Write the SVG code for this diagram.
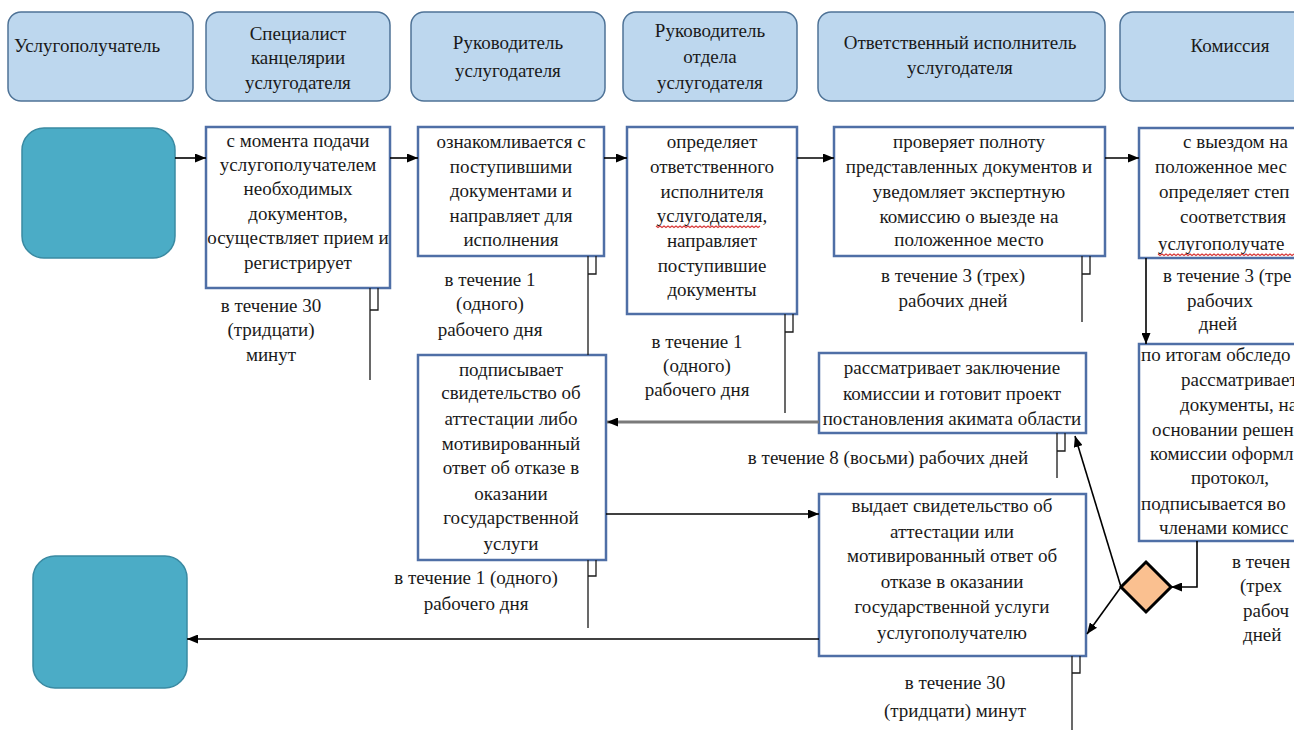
<svg xmlns="http://www.w3.org/2000/svg" width="1298" height="730" viewBox="0 0 1298 730" font-family="Liberation Serif" font-size="19">
<style>
.hdr{fill:#BDD7EE;stroke:#4F7397;stroke-width:1.5}
.term{fill:#4BACC6;stroke:#3A8AA2;stroke-width:1.5}
.proc{fill:#fff;stroke:#4F6FA6;stroke-width:2.5}
.dec{fill:#FAC090;stroke:#000;stroke-width:3}
text{fill:#1a1a1a}
.c{text-anchor:middle}
.conn{stroke:#000;stroke-width:1.6;fill:none}
.gray{stroke:#7a7a7a;stroke-width:3;fill:none}
.ann{stroke:#1a1a1a;stroke-width:1.3;fill:none}
.wave{stroke:#d83a3a;stroke-width:1.2;fill:none}
</style>
<defs>
<marker id="ah" markerUnits="userSpaceOnUse" markerWidth="11" markerHeight="9" refX="11" refY="4.5" orient="auto">
<path d="M0,0 L11,4.5 L0,9 z" fill="#000"/>
</marker>
<clipPath id="vp"><rect x="0" y="0" width="1294" height="730"/></clipPath>
</defs>
<rect width="1298" height="730" fill="#fff"/>
<g clip-path="url(#vp)" font-family="Liberation Serif, DejaVu Serif, serif">
<g id="lane1"><rect class="hdr" x="8" y="12" width="185" height="89" rx="13"/><text x="14" y="52">Услугополучатель</text></g>
<g id="lane2"><rect class="hdr" x="206" y="12" width="184" height="89" rx="13"/>
<text class="c" x="298" y="40">Специалист</text><text class="c" x="298" y="64">канцелярии</text><text class="c" x="298" y="89">услугодателя</text></g>
<g id="lane3"><rect class="hdr" x="411" y="12" width="194" height="89" rx="13"/>
<text class="c" x="508" y="49">Руководитель</text><text class="c" x="508" y="77">услугодателя</text></g>
<g id="lane4"><rect class="hdr" x="623" y="12" width="174" height="89" rx="13"/>
<text class="c" x="710" y="37">Руководитель</text><text class="c" x="710" y="63">отдела</text><text class="c" x="710" y="89">услугодателя</text></g>
<g id="lane5"><rect class="hdr" x="818" y="12" width="287" height="89" rx="13"/>
<text class="c" x="960" y="49">Ответственный исполнитель</text><text class="c" x="960" y="74">услугодателя</text></g>
<g id="lane6"><rect class="hdr" x="1120" y="12" width="200" height="89" rx="13"/>
<text class="c" x="1230" y="52">Комиссия</text></g>

<g id="start"><rect class="term" x="22" y="128" width="153" height="130" rx="22"/></g>
<g id="end"><rect class="term" x="33" y="556" width="154" height="132" rx="22"/></g>

<g id="p1"><rect class="proc" x="206" y="127" width="184" height="161"/>
<text class="c" x="298" y="147">с момента подачи</text>
<text class="c" x="298" y="171">услугополучателем</text>
<text class="c" x="298" y="195">необходимых</text>
<text class="c" x="298" y="220">документов,</text>
<text class="c" x="298" y="244">осуществляет прием и</text>
<text class="c" x="298" y="269">регистрирует</text></g>

<g id="p2"><rect class="proc" x="418" y="127" width="186" height="129"/>
<text class="c" x="511" y="148">ознакомливается с</text>
<text class="c" x="511" y="173">поступившими</text>
<text class="c" x="511" y="197">документами и</text>
<text class="c" x="511" y="222">направляет для</text>
<text class="c" x="511" y="246">исполнения</text></g>

<g id="p3"><rect class="proc" x="627" y="127" width="170" height="187"/>
<text class="c" x="712" y="148">определяет</text>
<text class="c" x="712" y="173">ответственного</text>
<text class="c" x="712" y="198">исполнителя</text>
<text class="c" x="712" y="222">услугодателя,</text>
<path class="wave" d="M656,226 l2,1.5 l2,-1.5 l2,1.5 l2,-1.5 l2,1.5 l2,-1.5 l2,1.5 l2,-1.5 l2,1.5 l2,-1.5 l2,1.5 l2,-1.5 l2,1.5 l2,-1.5 l2,1.5 l2,-1.5 l2,1.5 l2,-1.5 l2,1.5 l2,-1.5 l2,1.5 l2,-1.5 l2,1.5 l2,-1.5 l2,1.5 l2,-1.5 l2,1.5 l2,-1.5 l2,1.5 l2,-1.5 l2,1.5 l2,-1.5 l2,1.5 l2,-1.5 l2,1.5 l2,-1.5 l2,1.5 l2,-1.5 l2,1.5 l2,-1.5 l2,1.5 l2,-1.5 l2,1.5 l2,-1.5 l2,1.5 l2,-1.5 l2,1.5 l2,-1.5 l2,1.5 l2,-1.5 l2,1.5 l2,-1.5"/>
<text class="c" x="712" y="247">направляет</text>
<text class="c" x="712" y="272">поступившие</text>
<text class="c" x="712" y="296">документы</text></g>

<g id="p4"><rect class="proc" x="834" y="127" width="271" height="129"/>
<text class="c" x="969" y="148">проверяет полноту</text>
<text class="c" x="969" y="173">представленных документов и</text>
<text class="c" x="969" y="198">уведомляет экспертную</text>
<text class="c" x="969" y="223">комиссию о выезде на</text>
<text class="c" x="969" y="246">положенное место</text></g>

<g id="p5"><rect class="proc" x="1139" y="128" width="200" height="130"/>
<text x="1183" y="148">с выездом на</text>
<text x="1155" y="173">положенное мес</text>
<text x="1159" y="198">определяет степ</text>
<text x="1180" y="223">соответствия</text>
<text x="1158" y="250">услугополучате</text>
<path class="wave" d="M1158,254 l2,1.5 l2,-1.5 l2,1.5 l2,-1.5 l2,1.5 l2,-1.5 l2,1.5 l2,-1.5 l2,1.5 l2,-1.5 l2,1.5 l2,-1.5 l2,1.5 l2,-1.5 l2,1.5 l2,-1.5 l2,1.5 l2,-1.5 l2,1.5 l2,-1.5 l2,1.5 l2,-1.5 l2,1.5 l2,-1.5 l2,1.5 l2,-1.5 l2,1.5 l2,-1.5 l2,1.5 l2,-1.5 l2,1.5 l2,-1.5 l2,1.5 l2,-1.5 l2,1.5 l2,-1.5 l2,1.5 l2,-1.5 l2,1.5 l2,-1.5 l2,1.5 l2,-1.5 l2,1.5 l2,-1.5 l2,1.5 l2,-1.5 l2,1.5 l2,-1.5 l2,1.5 l2,-1.5 l2,1.5 l2,-1.5 l2,1.5 l2,-1.5 l2,1.5 l2,-1.5 l2,1.5 l2,-1.5 l2,1.5 l2,-1.5 l2,1.5 l2,-1.5 l2,1.5 l2,-1.5 l2,1.5 l2,-1.5 l2,1.5 l2,-1.5"/></g>

<g id="p6"><rect class="proc" x="1139" y="344" width="200" height="197"/>
<text x="1141" y="361">по итогам обследо</text>
<text x="1181" y="386">рассматривает</text>
<text x="1180" y="411">документы, на</text>
<text x="1152" y="436">основании решен</text>
<text x="1150" y="460">комиссии оформл</text>
<text class="c" x="1230" y="484">протокол,</text>
<text x="1141" y="510">подписывается во</text>
<text x="1159" y="534">членами комисс</text></g>

<g id="p7"><rect class="proc" x="819" y="353" width="267" height="80"/>
<text class="c" x="952" y="374">рассматривает заключение</text>
<text class="c" x="952" y="400">комиссии и готовит проект</text>
<text class="c" x="952" y="425">постановления акимата области</text></g>

<g id="p8"><rect class="proc" x="418" y="355" width="188" height="205"/>
<text class="c" x="511" y="376">подписывает</text>
<text class="c" x="511" y="399">свидетельство об</text>
<text class="c" x="511" y="425">аттестации либо</text>
<text class="c" x="511" y="450">мотивированный</text>
<text class="c" x="511" y="474">ответ об отказе в</text>
<text class="c" x="511" y="500">оказании</text>
<text class="c" x="511" y="524">государственной</text>
<text class="c" x="511" y="550">услуги</text></g>

<g id="p9"><rect class="proc" x="819" y="494" width="267" height="162"/>
<text class="c" x="952" y="512">выдает свидетельство об</text>
<text class="c" x="952" y="538">аттестации или</text>
<text class="c" x="952" y="562">мотивированный ответ об</text>
<text class="c" x="952" y="588">отказе в оказании</text>
<text class="c" x="952" y="613">государственной услуги</text>
<text class="c" x="952" y="639">услугополучателю</text></g>

<g id="decision"><path class="dec" d="M1146,562 L1171,587 L1146,612 L1121,587 z"/></g>

<g id="a1"><path class="ann" d="M370,288 V380 M370,310 H378 V288"/>
<text class="c" x="271" y="312">в течение 30</text><text class="c" x="271" y="336">(тридцати)</text><text class="c" x="271" y="361">минут</text></g>
<g id="a2"><path class="ann" d="M588,256 V355 M588,274 H596 V256"/>
<text class="c" x="490" y="286">в течение 1</text><text class="c" x="490" y="310">(одного)</text><text class="c" x="490" y="336">рабочего дня</text></g>
<g id="a3"><path class="ann" d="M785,314 V413 M785,332 H793 V314"/>
<text class="c" x="697" y="348">в течение 1</text><text class="c" x="697" y="372">(одного)</text><text class="c" x="697" y="396">рабочего дня</text></g>
<g id="a4"><path class="ann" d="M1082,256 V322 M1082,274 H1090 V256"/>
<text class="c" x="953" y="282">в течение 3 (трех)</text><text class="c" x="953" y="307">рабочих дней</text></g>
<g id="a5"><text x="1163" y="282">в течение 3 (тре</text><text class="c" x="1220" y="307">рабочих</text><text class="c" x="1218" y="330">дней</text></g>
<g id="a6"><text x="1232" y="568">в течен</text><text x="1240" y="592">(трех</text><text x="1243" y="617">рабоч</text><text x="1243" y="641">дней</text></g>
<g id="a7"><path class="ann" d="M1057,433 V478 M1057,451 H1065 V433"/>
<text class="c" x="888" y="464">в течение 8 (восьми) рабочих дней</text></g>
<g id="a8"><path class="ann" d="M588,560 V628 M588,576 H596 V560"/>
<text class="c" x="476" y="584">в течение 1 (одного)</text><text class="c" x="476" y="610">рабочего дня</text></g>
<g id="a9"><path class="ann" d="M1072,656 V730 M1072,673 H1080 V656"/>
<text class="c" x="955" y="689">в течение 30</text><text class="c" x="955" y="717">(тридцати) минут</text></g>

<g id="connectors">
<path class="conn" d="M175,158 H206" marker-end="url(#ah)"/>
<path class="conn" d="M390,158 H418" marker-end="url(#ah)"/>
<path class="conn" d="M604,158 H627" marker-end="url(#ah)"/>
<path class="conn" d="M797,158 H834" marker-end="url(#ah)"/>
<path class="conn" d="M1105,158 H1139" marker-end="url(#ah)"/>
<path class="conn" d="M1146,258 V344" marker-end="url(#ah)"/>
<path class="conn" d="M1197,541 V587 H1171" marker-end="url(#ah)"/>
<path class="conn" d="M1121,587 L1075,436" marker-end="url(#ah)"/>
<path class="conn" d="M1121,587 L1087,634" marker-end="url(#ah)"/>
<path class="gray" d="M819,422 H607" marker-end="url(#ah)"/>
<path class="conn" d="M606,514 H819" marker-end="url(#ah)"/>
<path class="conn" d="M819,639 H187" marker-end="url(#ah)"/>
</g>
</g>
</svg>
